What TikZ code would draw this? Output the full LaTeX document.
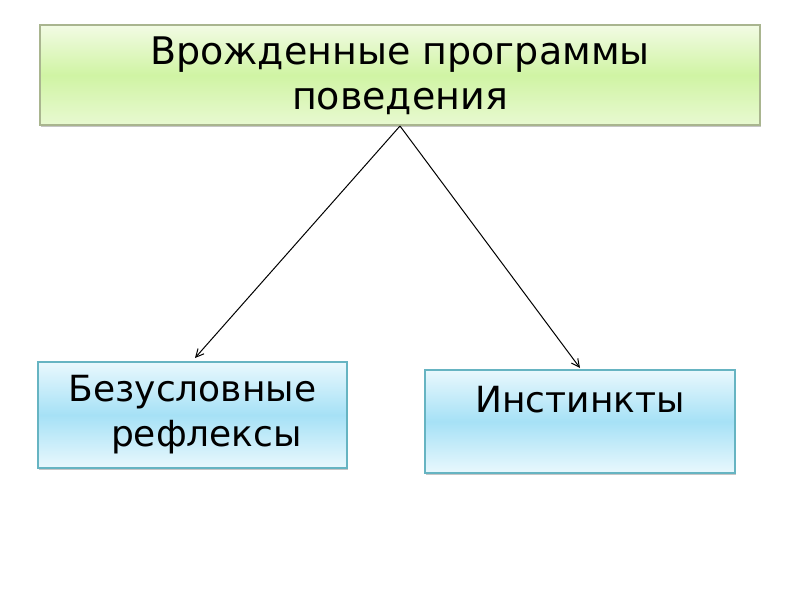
\documentclass[tikz,border=0pt]{standalone}
\usepackage{fontspec}
\setmainfont{DejaVu Sans}
\usetikzlibrary{arrows.meta, positioning, shadows}

\definecolor{greenTop}{HTML}{F2FBE4}
\definecolor{greenMid}{HTML}{D0F4A4}
\definecolor{greenEdge}{HTML}{A9B58F}
\definecolor{blueTop}{HTML}{E9F8FD}
\definecolor{blueMid}{HTML}{A6E1F6}
\definecolor{blueEdge}{HTML}{66B4C2}

\tikzset{
  topbox/.style={draw=greenEdge, line width=0.6pt, top color=greenTop, bottom color=greenTop!70!greenMid, middle color=greenMid,
                 drop shadow={shadow xshift=0.4pt, shadow yshift=-1pt, opacity=0.45},
                 align=center, font=\fontsize{19pt}{22.5pt}\selectfont},
  kindbox/.style={draw=blueEdge, line width=0.6pt, top color=blueTop, bottom color=blueTop, middle color=blueMid,
                 drop shadow={shadow xshift=0.4pt, shadow yshift=-1pt, opacity=0.45},
                 align=center, font=\fontsize{18pt}{22.5pt}\selectfont}
}

\begin{document}
\begin{tikzpicture}[x=0.5pt, y=-0.5pt, ->, >={Straight Barb[length=4pt,width=4pt]}]

   \useasboundingbox (0,0) rectangle (800,600);

   % Nodes
      \node[topbox, minimum width=360pt, minimum height=50pt, text depth=1.5pt]    (innate) at (400,75)    {Врожденные программы\\поведения};
      \node[kindbox, minimum width=154.5pt, minimum height=53pt] (reflex) at (192.5,415) {Безусловные\\\hspace*{14pt}рефлексы};
      \node[kindbox, minimum width=155pt, minimum height=51.5pt] (instinct) at (580,421.5) {Инстинкты\\\mbox{}};

   % Paths
      \coordinate (fork) at (400,126);
      \coordinate (reflexEnd) at (195,358);
      \coordinate (instinctEnd) at (580,368);
      \path (fork) edge [line width=0.5pt] (reflexEnd)
                   edge [line width=0.5pt] (instinctEnd);
\end{tikzpicture}
\end{document}
